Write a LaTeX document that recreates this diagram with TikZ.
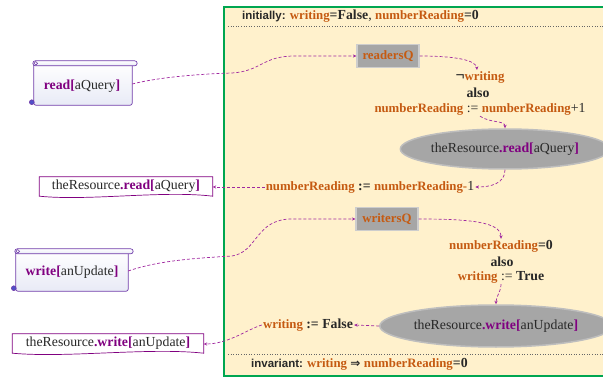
\documentclass[tikz,border=0pt]{standalone}
\usepackage{fontspec}
\setmainfont{Liberation Serif}
\setsansfont{Liberation Sans}
\newfontfamily\symfont{DejaVu Sans}
\usetikzlibrary{arrows.meta,shapes.geometric}
\definecolor{grn}{RGB}{0,166,81}
\definecolor{paper}{RGB}{255,241,204}
\definecolor{orng}{RGB}{197,90,17}
\definecolor{purp}{RGB}{128,0,128}
\definecolor{arrc}{RGB}{160,40,160}
\definecolor{qgray}{RGB}{166,166,166}
\definecolor{egray}{RGB}{166,166,166}
\definecolor{scrb}{RGB}{112,60,170}
\definecolor{ink}{RGB}{40,40,40}
\newcommand\ov[1]{\textcolor{orng}{\bfseries\fontsize{12.8}{15}\selectfont #1}}
\newcommand\pk[1]{\textcolor{purp}{\bfseries #1}}
\newcommand\lbl[1]{{\sffamily\bfseries\fontsize{11.5}{13}\selectfont #1}}
\begin{document}
\begin{tikzpicture}[x=1pt,y=-1pt,
  every node/.style={text=ink, font=\fontsize{13.8}{16}\selectfont},
  flow/.style={draw=arrc, dash pattern=on 3pt off 2pt, line width=0.7pt, -{Stealth[length=3.5pt,width=3.2pt]}},
  queue/.style={draw={rgb,255:red,205;green,205;blue,205}, fill=qgray, line width=1.2pt, minimum width=62pt, minimum height=23pt, inner sep=0pt, text=orng},
  res/.style={ellipse, fill=egray, draw={rgb,255:red,190;green,190;blue,190}, line width=1.5pt, inner sep=0pt},
  txt/.style={inner sep=1pt},
  scrolltxt/.style={inner sep=0pt},
  scrollbody/.style={draw=scrb, line width=0.7pt, top color=white, bottom color={rgb,255:red,232;green,234;blue,246}},
  docbody/.style={draw=purp, line width=0.7pt, fill=white},
  doctxt/.style={inner sep=0pt, minimum height=20pt}
]
\useasboundingbox (0,0) rectangle (603,377);
% frame
\draw[grn, line width=1.6pt, fill=paper] (224,7) rectangle (620,376);
\draw[dotted, line width=0.6pt, black!60] (228,26) -- (603,26);
\draw[dotted, line width=0.6pt, black!60] (228,354) -- (603,354);
\node[txt, anchor=west] (init) at (241,16) {\lbl{initially: }\ov{writing}\textbf{=False}, \ov{numberReading}\textbf{=0}};
\node[txt, anchor=west] (inv) at (250,364) {\lbl{invariant: }\ov{writing} {\symfont\bfseries\fontsize{12}{13}\selectfont ⇒} \ov{numberReading}\textbf{=0}};

% scrolls
\node[scrolltxt, minimum width=98pt, minimum height=42pt] (readS) at (83,84) {};
\draw[scrollbody, rounded corners=2pt] (readS.north west) rectangle (readS.south east);
\draw[scrollbody, rounded corners=2.5pt] ([xshift=-1pt,yshift=2pt]readS.north west) rectangle ([xshift=5pt,yshift=-3pt]readS.north east);
\draw[draw=scrb, line width=0.6pt, fill=white] ([xshift=2pt,yshift=-0.5pt]readS.north west) circle (1.8pt);
\draw[draw=scrb, line width=0.6pt, fill={rgb,255:red,80;green,80;blue,200}] ([xshift=-2pt,yshift=3pt]readS.south west) circle (2.4pt);
\node[scrolltxt] at (82,86) {\pk{read[}aQuery\pk{]}};

\node[scrolltxt, minimum width=112pt, minimum height=40pt] (writeS) at (72,271) {};
\draw[scrollbody, rounded corners=2pt] (writeS.north west) rectangle (writeS.south east);
\draw[scrollbody, rounded corners=2.5pt] ([xshift=-1pt,yshift=2pt]writeS.north west) rectangle ([xshift=5pt,yshift=-3pt]writeS.north east);
\draw[draw=scrb, line width=0.6pt, fill=white] ([xshift=2pt,yshift=-0.5pt]writeS.north west) circle (1.8pt);
\draw[draw=scrb, line width=0.6pt, fill={rgb,255:red,80;green,80;blue,200}] ([xshift=-2pt,yshift=3pt]writeS.south west) circle (2.4pt);
\node[scrolltxt] at (72,272) {\pk{write[}anUpdate\pk{]}};

% documents
\node[doctxt, minimum width=173pt] (docR) at (126,187) {};
\draw[docbody] (docR.north west) -- (docR.north east) -- ([yshift=1pt]docR.south east) .. controls +(-50,-6) and +(50,5) .. ([yshift=1pt]docR.south west) -- cycle;
\node[inner sep=0pt] at (126,186) {theResource\pk{.read[}aQuery\pk{]}};

\node[doctxt, minimum width=191pt] (docW) at (108,344) {};
\draw[docbody] (docW.north west) -- (docW.north east) -- ([yshift=1pt]docW.south east) .. controls +(-55,-6) and +(55,5) .. ([yshift=1pt]docW.south west) -- cycle;
\node[inner sep=0pt] at (108,343) {theResource\pk{.write[}anUpdate\pk{]}};

% queues
\node[queue] (rQ) at (388,56) {\ov{readersQ}};
\node[queue] (wQ) at (387,219) {\ov{writersQ}};

% conditions
\node[txt] (c1a) at (480,77) {{\fontsize{16}{16}\selectfont\textbf{¬}}\ov{writing}};
\node[txt] (c1b) at (478,93) {\textbf{also}};
\node[txt] (c1c) at (480,109) {\ov{numberReading} := \ov{numberReading}+1};

\node[txt] (c2a) at (501,246) {\ov{numberReading}\textbf{=0}};
\node[txt] (c2b) at (502,262) {\textbf{also}};
\node[txt] (c2c) at (501,277) {\ov{writing} := \textbf{True}};

% resources
\node[res, minimum width=200pt, minimum height=40pt] (eR) at (505,149) {theResource\pk{.read[}aQuery\pk{]}};
\node[res, minimum width=220pt, minimum height=42pt] (eW) at (496,326) {theResource\pk{.write[}anUpdate\pk{]}};

% updates
\node[txt] (u1) at (370,187) {\ov{numberReading} \textbf{:=} \ov{numberReading-}1};
\node[txt] (u2) at (308,325) {\ov{writing} \textbf{:= False}};

% connectors
\draw[flow] (readS.east) .. controls (160,77) and (200,74) .. (232,73) .. controls (262,71) and (262,56) .. (295,56) -- (rQ.west);
\draw[flow] (rQ.east) .. controls (455,56) and (476,60) .. ([xshift=-3pt]c1a.north);
\draw[flow] (c1c.south) .. controls +(10,7) and +(0,-8) .. (eR.north);
\draw[flow] (eR.south) .. controls +(0,14) and +(15,0) .. (u1.east);
\draw[flow] (u1.west) -- (docR.east);

\draw[flow] (writeS.east) .. controls (160,260) and (200,258) .. (232,256) .. controls (258,252) and (255,219) .. (292,219) -- (wQ.west);
\draw[flow] (wQ.east) .. controls (470,219) and (501,222) .. (c2a.north);
\draw[flow] (c2c.south) .. controls +(0,8) and +(0,-8) .. (eW.north);
\draw[flow] (eW.west) -- (u2.east);
\draw[flow] (u2.west) .. controls +(-14,4) and +(25,0) .. (docW.east);
\end{tikzpicture}
\end{document}
